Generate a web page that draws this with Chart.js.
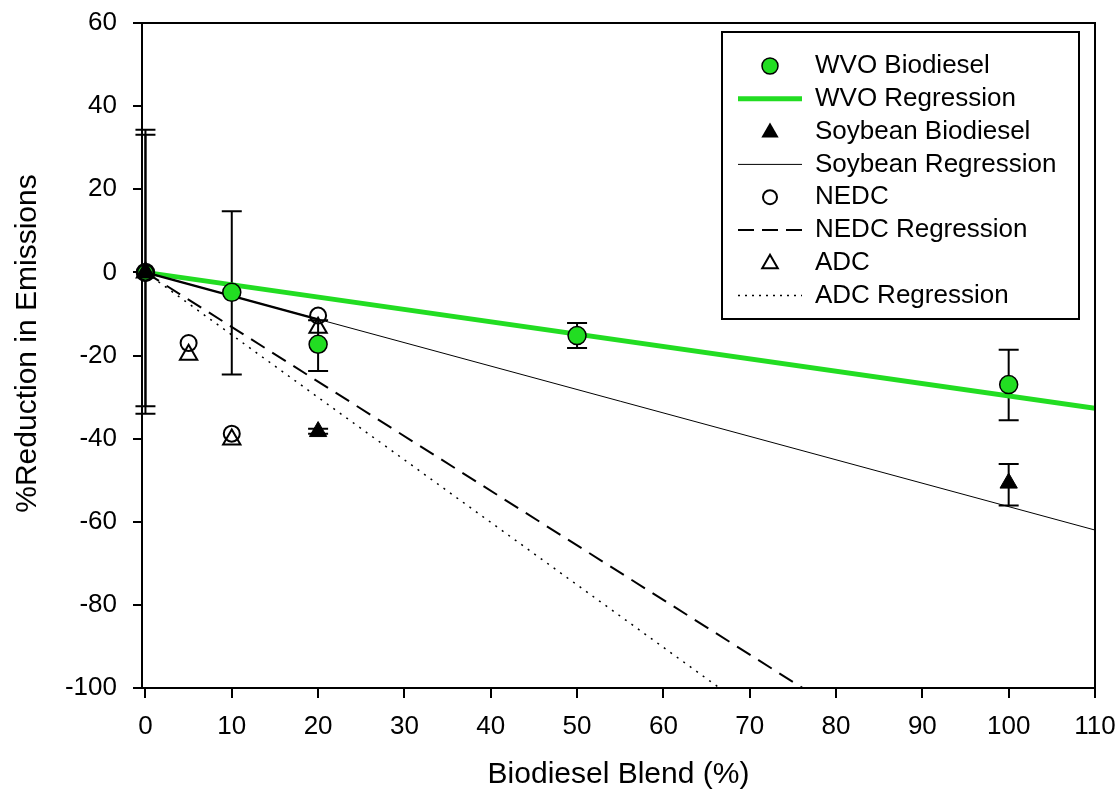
<!DOCTYPE html>
<html>
<head>
<meta charset="utf-8">
<script src="https://cdn.jsdelivr.net/npm/chart.js@4"></script>
<style>
  html, body { margin: 0; padding: 0; background: #fff; }
  #wrap { width: 1120px; height: 796px; }
</style>
</head>
<body>
<div id="wrap"><canvas id="emissions-chart"></canvas></div>
<script>
// axis ticks
const xTicks = [0, 10, 20, 30, 40, 50, 60, 70, 80, 90, 100, 110]
const yTicks = [-100, -80, -60, -40, -20, 0, 20, 40, 60]

// WVO biodiesel measurements with error bar ends
const wvoBlend = [0, 10, 20, 50, 100]
const wvoReduction = [0, -4.8, -17.3, -15.2, -27.0]
const wvoErrHigh = [34.3, 14.7, -11.5, -12.2, -18.6]
const wvoErrLow = [-34.0, -24.6, -23.7, -18.2, -35.6]

// soybean biodiesel measurements with error bar ends
const soyBlend = [0, 20, 100]
const soyReduction = [0, -38.3, -50.7]
const soyErrHigh = [33.1, -37.6, -46.1]
const soyErrLow = [-32.2, -38.8, -56.1]

// drive cycles
const nedcBlend = [0, 5, 10, 20]
const nedcReduction = [0, -17.0, -38.8, -10.4]
const adcBlend = [0, 5, 10, 20]
const adcReduction = [0, -19.8, -40.2, -13.3]

// regression lines (end points)
const regBlend = [0, 110]
const wvoRegression = [0, -32.7]
const soyRegression = [0, -62.0]
const nedcRegression = [0, -144.5]
const adcRegression = [0, -165.4]
const soyShortBlend = [0, 20]
const soyShortRegression = [0, -11.3]

const GREEN = '#22dd22'
const FONT = '"Liberation Sans", Arial, sans-serif'

const toPoints = (xs, ys) => xs.map((x, i) => ({ x: x, y: ys[i] }))

const errorBars = [
  { xs: wvoBlend, hi: wvoErrHigh, lo: wvoErrLow },
  { xs: soyBlend, hi: soyErrHigh, lo: soyErrLow }
]

const errorBarPlugin = {
  id: 'errorBars',
  beforeDatasetsDraw (chart) {
    const { ctx, scales: { x, y } } = chart
    ctx.save()
    ctx.strokeStyle = '#000'
    ctx.lineWidth = 2
    for (const set of errorBars) {
      set.xs.forEach((v, i) => {
        const px = x.getPixelForValue(v)
        const top = y.getPixelForValue(set.hi[i])
        const bot = y.getPixelForValue(set.lo[i])
        ctx.beginPath()
        ctx.moveTo(px, top)
        ctx.lineTo(px, bot)
        ctx.moveTo(px - 10, top)
        ctx.lineTo(px + 10, top)
        ctx.moveTo(px - 10, bot)
        ctx.lineTo(px + 10, bot)
        ctx.stroke()
      })
    }
    ctx.restore()
  }
}

// top / right frame and the y axis title (placed a bit above centre, like the original)
const framePlugin = {
  id: 'frame',
  afterDatasetsDraw (chart) {
    const { ctx, chartArea: a } = chart
    ctx.save()
    ctx.strokeStyle = '#000'
    ctx.lineWidth = 2
    ctx.beginPath()
    ctx.moveTo(a.left, a.top)
    ctx.lineTo(a.right, a.top)
    ctx.lineTo(a.right, a.bottom)
    ctx.stroke()

    ctx.translate(28, a.top + (a.bottom - a.top) / 2 - 12)
    ctx.rotate(-Math.PI / 2)
    ctx.font = '30px ' + FONT
    ctx.fillStyle = '#000'
    ctx.textAlign = 'center'
    ctx.textBaseline = 'middle'
    ctx.fillText('%Reduction in Emissions', 0, 0)
    ctx.restore()
  }
}

// legend entries: [label, kind]
const legendItems = [
  ['WVO Biodiesel', 'greenCircle'],
  ['WVO Regression', 'greenLine'],
  ['Soybean Biodiesel', 'filledTriangle'],
  ['Soybean Regression', 'thinLine'],
  ['NEDC', 'openCircle'],
  ['NEDC Regression', 'dashLine'],
  ['ADC', 'openTriangle'],
  ['ADC Regression', 'dotLine']
]

function triangle (ctx, cx, cy, r) {
  ctx.beginPath()
  for (let k = 0; k < 3; k++) {
    const a = k * 2 * Math.PI / 3
    const px = cx + Math.sin(a) * r
    const py = cy - Math.cos(a) * r
    k === 0 ? ctx.moveTo(px, py) : ctx.lineTo(px, py)
  }
  ctx.closePath()
}

const legendPlugin = {
  id: 'boxLegend',
  afterDraw (chart) {
    const ctx = chart.ctx
    const left = 722
    const top = 32
    const right = 1079
    const bottom = 319
    ctx.save()
    ctx.fillStyle = '#fff'
    ctx.fillRect(left, top, right - left, bottom - top)
    ctx.strokeStyle = '#000'
    ctx.lineWidth = 2
    ctx.strokeRect(left, top, right - left, bottom - top)

    ctx.font = '26px ' + FONT
    ctx.textBaseline = 'middle'
    ctx.textAlign = 'left'
    legendItems.forEach(([label, kind], i) => {
      const cy = 66 + i * 32.8
      const cx = 770
      ctx.lineWidth = 1.5
      ctx.strokeStyle = '#000'
      ctx.setLineDash([])
      if (kind === 'greenCircle') {
        ctx.beginPath()
        ctx.arc(cx, cy, 8, 0, Math.PI * 2)
        ctx.fillStyle = GREEN
        ctx.fill()
        ctx.stroke()
      } else if (kind === 'openCircle') {
        ctx.beginPath()
        ctx.arc(cx, cy, 7, 0, Math.PI * 2)
        ctx.lineWidth = 2
        ctx.stroke()
      } else if (kind === 'filledTriangle') {
        triangle(ctx, cx, cy + 1, 10)
        ctx.fillStyle = '#000'
        ctx.fill()
      } else if (kind === 'openTriangle') {
        triangle(ctx, cx, cy + 1, 9)
        ctx.lineWidth = 2
        ctx.stroke()
      } else {
        ctx.beginPath()
        ctx.moveTo(738, cy)
        ctx.lineTo(802, cy)
        if (kind === 'greenLine') {
          ctx.strokeStyle = GREEN
          ctx.lineWidth = 5
        } else if (kind === 'thinLine') {
          ctx.lineWidth = 1
        } else if (kind === 'dashLine') {
          ctx.lineWidth = 2
          ctx.setLineDash([16, 8])
        } else {
          ctx.lineWidth = 1.5
          ctx.setLineDash([2, 5])
        }
        ctx.stroke()
      }
      ctx.setLineDash([])
      ctx.fillStyle = '#000'
      ctx.fillText(label, 815, cy)
    })
    ctx.restore()
  }
}

const canvasElement2d = document.getElementById('emissions-chart').getContext('2d')
const emissionsChart = new Chart(canvasElement2d, {
  type: 'scatter',
  data: {
    datasets: [
      {
        label: 'WVO Regression',
        data: toPoints(regBlend, wvoRegression),
        showLine: true,
        borderColor: GREEN,
        borderWidth: 5,
        pointRadius: 0,
        order: 9
      },
      {
        label: 'Soybean Regression',
        data: toPoints(regBlend, soyRegression),
        showLine: true,
        borderColor: '#000',
        borderWidth: 1,
        pointRadius: 0,
        order: 8
      },
      {
        label: 'Soybean Regression (0-20)',
        data: toPoints(soyShortBlend, soyShortRegression),
        showLine: true,
        borderColor: '#000',
        borderWidth: 2.5,
        pointRadius: 0,
        order: 7
      },
      {
        label: 'NEDC Regression',
        data: toPoints(regBlend, nedcRegression),
        showLine: true,
        borderColor: '#000',
        borderWidth: 2,
        borderDash: [16, 9],
        pointRadius: 0,
        order: 7
      },
      {
        label: 'ADC Regression',
        data: toPoints(regBlend, adcRegression),
        showLine: true,
        borderColor: '#000',
        borderWidth: 1.5,
        borderDash: [2, 6],
        pointRadius: 0,
        order: 7
      },
      {
        label: 'WVO Biodiesel',
        data: toPoints(wvoBlend, wvoReduction),
        pointStyle: 'circle',
        pointRadius: 9,
        backgroundColor: GREEN,
        borderColor: '#000',
        borderWidth: 1.5,
        clip: false,
        order: 4
      },
      {
        label: 'NEDC',
        data: toPoints(nedcBlend, nedcReduction),
        pointStyle: 'circle',
        pointRadius: 8,
        backgroundColor: 'rgba(255,255,255,0)',
        borderColor: '#000',
        borderWidth: 2,
        clip: false,
        order: 3
      },
      {
        label: 'ADC',
        data: toPoints(adcBlend, adcReduction),
        pointStyle: 'triangle',
        pointRadius: 10,
        backgroundColor: 'rgba(255,255,255,0)',
        borderColor: '#000',
        borderWidth: 2,
        clip: false,
        order: 2
      },
      {
        label: 'Soybean Biodiesel',
        data: toPoints(soyBlend, soyReduction),
        pointStyle: 'triangle',
        pointRadius: 10,
        backgroundColor: '#000',
        borderColor: '#000',
        borderWidth: 1,
        clip: false,
        order: 1
      }
    ]
  },
  options: {
    responsive: true,
    maintainAspectRatio: false,
    animation: false,
    layout: { padding: { left: 0, right: 25, top: 23, bottom: 0 } },
    plugins: {
      legend: { display: false },
      tooltip: { enabled: false }
    },
    scales: {
      x: {
        type: 'linear',
        min: -0.4,
        max: 110,
        afterBuildTicks: s => { s.ticks = xTicks.map(v => ({ value: v })) },
        afterFit: s => {
          s.height = 108
          s.paddingLeft = 0
          s.paddingRight = 0
        },
        border: { display: true, color: '#000', width: 2 },
        grid: { drawOnChartArea: false, drawTicks: true, tickLength: 10, color: '#000', lineWidth: 2 },
        ticks: { color: '#000', font: { family: FONT, size: 26 }, padding: 13, maxRotation: 0, autoSkip: false },
        title: {
          display: true,
          text: 'Biodiesel Blend (%)',
          color: '#000',
          font: { family: FONT, size: 30 },
          padding: { top: 0, bottom: 3 }
        }
      },
      y: {
        type: 'linear',
        min: -100,
        max: 60,
        afterBuildTicks: s => { s.ticks = yTicks.map(v => ({ value: v })) },
        afterFit: s => {
          s.width = 142
          s.paddingTop = 0
          s.paddingBottom = 0
        },
        border: { display: true, color: '#000', width: 2 },
        grid: { drawOnChartArea: false, drawTicks: true, tickLength: 9, color: '#000', lineWidth: 2 },
        ticks: { color: '#000', font: { family: FONT, size: 26 }, padding: 16, autoSkip: false },
        title: { display: false }
      }
    }
  },
  plugins: [errorBarPlugin, framePlugin, legendPlugin]
})
</script>
</body>
</html>
